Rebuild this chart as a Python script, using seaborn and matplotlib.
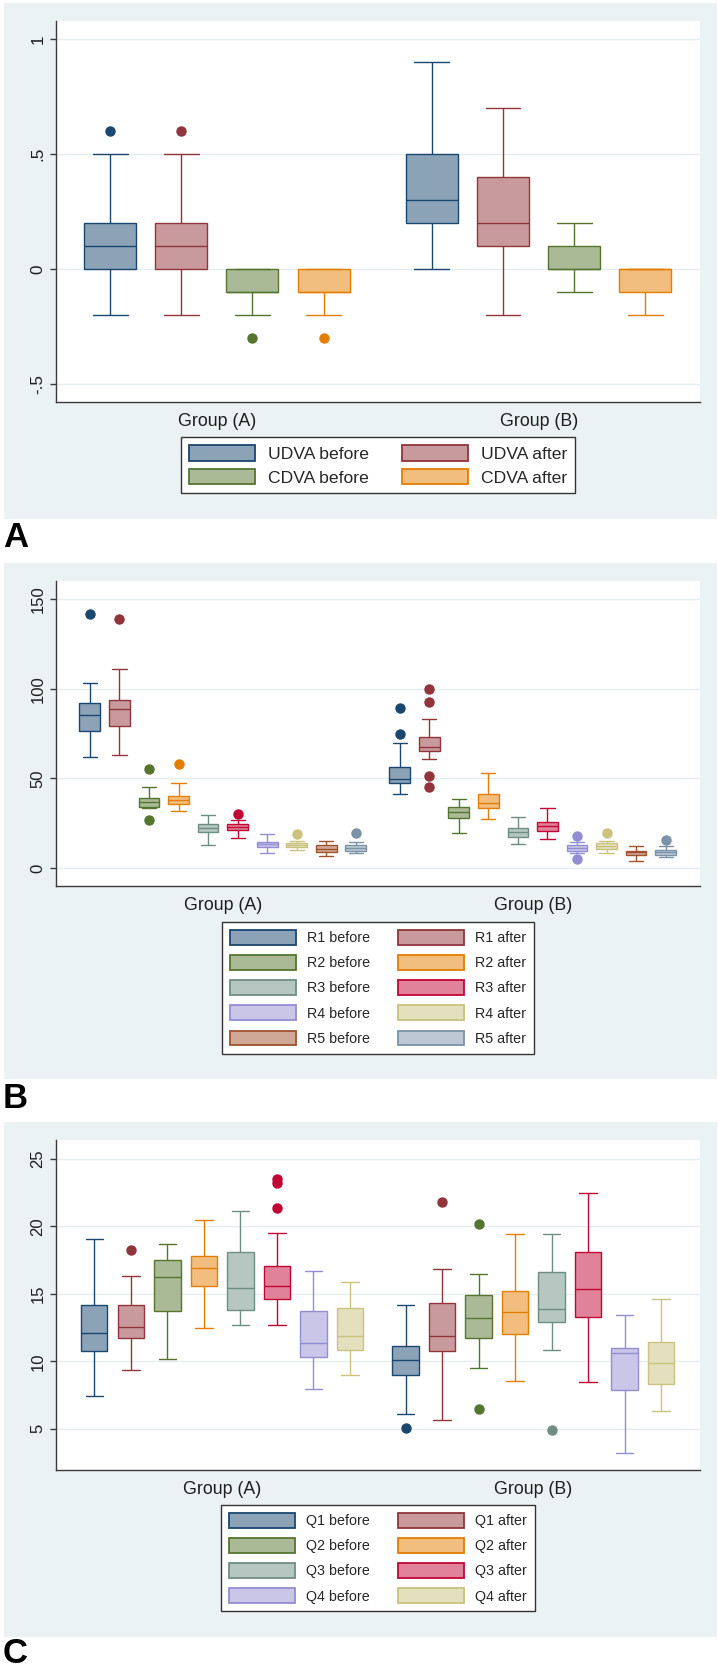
import matplotlib
matplotlib.use("Agg")
import matplotlib.pyplot as plt
from matplotlib.patches import Patch, Rectangle
import seaborn as sns
import pandas as pd

# ---- data ----
groups = ["Group (A)", "Group (B)"]

# box summaries: (lower whisker, q1, median, q3, upper whisker)
va_names = ["UDVA before", "UDVA after", "CDVA before", "CDVA after"]
va_box_a = [(-0.2, 0.0, 0.1, 0.2, 0.5), (-0.2, 0.0, 0.1, 0.2, 0.5),
            (-0.2, -0.1, -0.1, 0.0, 0.0), (-0.2, -0.1, -0.1, 0.0, 0.0)]
va_box_b = [(0.0, 0.2, 0.3, 0.5, 0.9), (-0.2, 0.1, 0.2, 0.4, 0.7),
            (-0.1, 0.0, 0.0, 0.1, 0.2), (-0.2, -0.1, 0.0, 0.0, 0.0)]
va_out_a = [[0.6], [0.6], [-0.3], [-0.3]]
va_out_b = [[], [], [], []]

r_names = ["R1 before", "R1 after", "R2 before", "R2 after", "R3 before",
           "R3 after", "R4 before", "R4 after", "R5 before", "R5 after"]
r_box_a = [(62.1, 76.4, 85.1, 92.0, 103.0), (63.2, 79.0, 88.6, 93.7, 111.2),
           (33.3, 34.3, 36.8, 39.1, 45.4), (31.6, 35.5, 37.9, 40.4, 47.2),
           (13.1, 20.0, 22.4, 24.8, 29.5), (16.5, 21.3, 23.0, 24.6, 26.8),
           (8.6, 11.5, 13.2, 14.6, 18.8), (10.0, 11.9, 12.9, 14.1, 15.2),
           (6.9, 8.7, 10.8, 12.8, 15.2), (8.2, 9.7, 11.3, 12.8, 14.7)]
r_box_b = [(41.4, 47.5, 49.4, 56.5, 69.5), (60.8, 65.0, 67.3, 72.8, 83.0),
           (19.7, 28.0, 31.0, 34.0, 38.5), (27.1, 33.3, 36.1, 41.3, 52.8),
           (13.3, 17.5, 19.9, 22.6, 28.5), (16.2, 20.8, 23.4, 25.9, 33.3),
           (8.5, 9.7, 11.3, 12.8, 14.3), (8.2, 10.4, 12.3, 13.8, 15.2),
           (4.1, 7.2, 8.7, 9.7, 12.3), (6.3, 7.2, 8.7, 10.0, 12.3)]
r_out_a = [[141.4], [138.7], [26.8, 55.2], [57.8], [], [30.1], [], [18.8], [], [19.3]]
r_out_b = [[74.5, 89.0], [45.3, 51.3, 92.5, 99.8], [], [], [], [],
           [4.8, 17.8], [19.5], [], [15.6]]

q_names = ["Q1 before", "Q1 after", "Q2 before", "Q2 after",
           "Q3 before", "Q3 after", "Q4 before", "Q4 after"]
q_box_a = [(7.45, 10.76, 12.12, 14.15, 19.04), (9.35, 11.70, 12.56, 14.20, 16.30),
           (10.17, 13.73, 16.25, 17.48, 18.72), (12.47, 15.60, 16.92, 17.80, 20.48),
           (12.66, 13.80, 15.43, 18.10, 21.17), (12.71, 14.62, 15.58, 17.09, 19.49),
           (7.97, 10.32, 11.35, 13.73, 16.67), (8.98, 10.83, 11.90, 13.92, 15.88)]
q_box_b = [(6.11, 8.96, 10.09, 11.11, 14.17), (5.67, 10.74, 11.87, 14.30, 16.87),
           (9.50, 11.75, 13.21, 14.91, 16.50), (8.56, 12.02, 13.68, 15.23, 19.44),
           (10.86, 12.94, 13.85, 16.59, 19.46), (8.46, 13.28, 15.36, 18.08, 22.45),
           (3.22, 7.85, 10.59, 11.00, 13.46), (6.34, 8.29, 9.87, 11.40, 14.62)]
q_out_a = [[], [18.28], [], [], [], [21.37, 23.24, 23.54], [], []]
q_out_b = [[5.02], [21.81], [6.43, 20.20], [], [4.88], [], [], []]

# Stata s2color lines and their 50% fills
edge_colors = ["#1A476F", "#90353B", "#55752F", "#E37E00", "#6E8E84",
               "#C10534", "#938DD2", "#CAC27E", "#A0522D", "#7B92A8"]
fill_colors = ["#8CA3B7", "#C89A9D", "#AABA97", "#F1BE7F", "#B6C6C1",
               "#E08299", "#C9C6E8", "#E4E0BE", "#CFA896", "#BDC8D3"]


def sample_from_summary(box, outliers):
    # values whose quartiles / adjacent values give back the summary
    lo_w, q1, med, q3, hi_w = box
    low = sorted(v for v in outliers if v < q1)
    high = sorted(v for v in outliers if v > q3)
    k = max(len(low), len(high)) + 1
    vals = list(low) + [lo_w] * (k - len(low)) + [q1] * k + [med] * k
    vals += [q3] + [hi_w] * (k - len(high)) + high
    return vals


def make_frame(names, box_a, box_b, out_a, out_b):
    rows = []
    for g, boxes, outs in [(groups[0], box_a, out_a), (groups[1], box_b, out_b)]:
        for name, box, out in zip(names, boxes, outs):
            for v in sample_from_summary(box, out):
                rows.append({"group": g, "series": name, "value": v})
    return pd.DataFrame(rows)


sns.set_theme(style="white")
plt.rcParams["font.family"] = ["Liberation Sans", "DejaVu Sans"]

W, H = 719, 1667
fig = plt.figure(figsize=(W / 100, H / 100), dpi=100)
BG = "#EAF2F3"


def px_rect(l, t, r, b):
    return [l / W, 1 - b / H, (r - l) / W, (b - t) / H]


def panel(names, box_a, box_b, out_a, out_b, bg, axbox, ylim, ticks, ticklabels,
          width, gap, margin, whis, leg_top, leg_fs, leg_kw, letter, letter_y, tick_fs):
    fig.add_artist(Rectangle((bg[0] / W, 1 - bg[3] / H), (bg[2] - bg[0]) / W,
                             (bg[3] - bg[1]) / H, transform=fig.transFigure,
                             facecolor=BG, edgecolor="none", zorder=-5))
    ax = fig.add_axes(px_rect(*axbox))
    ax.set_facecolor("white")
    df = make_frame(names, box_a, box_b, out_a, out_b)
    n = len(names)
    capw = width / n * (1 - gap) * 0.67
    pal = dict(zip(names, fill_colors[:n]))
    for i, name in enumerate(names):
        sub = df[df["series"] == name]
        sns.boxplot(data=sub, x="group", y="value", hue="series", order=groups,
                    hue_order=names, palette=pal, dodge=True, width=width, gap=gap,
                    saturation=1, linecolor=edge_colors[i], linewidth=1.0, whis=whis,
                    capwidths=capw, legend=False, ax=ax,
                    flierprops=dict(marker="o", markerfacecolor=edge_colors[i],
                                    markeredgecolor=edge_colors[i], markersize=6.5))
    ax.set_xlim(-margin, 1 + margin)
    ax.set_ylim(*ylim)
    ax.set_yticks(ticks)
    ax.set_yticklabels(ticklabels, rotation=90, va="center")
    ax.set_xlabel("")
    ax.set_ylabel("")
    ax.yaxis.grid(True, color="#E4EDF0", linewidth=1.0)
    ax.set_axisbelow(True)
    for s in ["top", "right"]:
        ax.spines[s].set_visible(False)
    for s in ["left", "bottom"]:
        ax.spines[s].set_color("#3A3A3A")
        ax.spines[s].set_linewidth(1.0)
    ax.tick_params(axis="x", length=0, pad=8, labelsize=12.8, colors="#1E1E1E")
    ax.tick_params(axis="y", left=True, length=4.5, width=1.0, color="#3A3A3A",
                   pad=3, labelsize=tick_fs, labelcolor="#1E1E1E")

    handles = [Patch(facecolor=fill_colors[i], edgecolor=edge_colors[i], linewidth=1.3)
               for i in range(n)]
    order = list(range(0, n, 2)) + list(range(1, n, 2))
    leg = fig.legend([handles[i] for i in order], [names[i] for i in order], ncol=2,
                     loc="upper center", bbox_to_anchor=(378 / W, 1 - leg_top / H),
                     borderaxespad=0, frameon=True, fancybox=False, framealpha=1,
                     edgecolor="#333333", fontsize=leg_fs, **leg_kw)
    leg.get_frame().set_linewidth(1.0)
    fig.text(3 / W, 1 - letter_y / H, letter, fontsize=25, fontweight="bold",
             va="baseline", ha="left", color="black")


panel(va_names, va_box_a, va_box_b, va_out_a, va_out_b,
      bg=(4, 3, 717, 519), axbox=(56, 21.5, 699.5, 402), ylim=(-0.578, 1.077),
      ticks=[-0.5, 0, 0.5, 1], ticklabels=["-.5", "0", ".5", "1"],
      width=0.885, gap=0.27, margin=0.5, whis=1.6, leg_top=437, leg_fs=12.6,
      leg_kw=dict(handlelength=3.8, handleheight=1.0, labelspacing=0.4,
                  columnspacing=1.9, handletextpad=0.7, borderpad=0.45),
      letter="A", letter_y=547, tick_fs=12.3)

panel(r_names, r_box_a, r_box_b, r_out_a, r_out_b,
      bg=(4, 563, 717, 1079), axbox=(56, 581, 699.5, 886), ylim=(-10, 160),
      ticks=[0, 50, 100, 150], ticklabels=["0", "50", "100", "150"],
      width=0.952, gap=0.29, margin=0.538, whis=1.5, leg_top=922, leg_fs=10.3,
      leg_kw=dict(handlelength=4.6, handleheight=1.2, labelspacing=0.7,
                  columnspacing=2.0, handletextpad=0.75, borderpad=0.55),
      letter="B", letter_y=1108, tick_fs=12)

panel(q_names, q_box_a, q_box_b, q_out_a, q_out_b,
      bg=(4, 1122, 717, 1637), axbox=(56, 1140, 699.5, 1470), ylim=(1.94, 26.41),
      ticks=[5, 10, 15, 20, 25], ticklabels=["5", "10", "15", "20", "25"],
      width=0.939, gap=0.28, margin=0.534, whis=1.5, leg_top=1505, leg_fs=10.3,
      leg_kw=dict(handlelength=4.6, handleheight=1.2, labelspacing=0.7,
                  columnspacing=2.0, handletextpad=0.75, borderpad=0.55),
      letter="C", letter_y=1663, tick_fs=12)

fig.savefig("out.png", dpi=100, facecolor="white")
